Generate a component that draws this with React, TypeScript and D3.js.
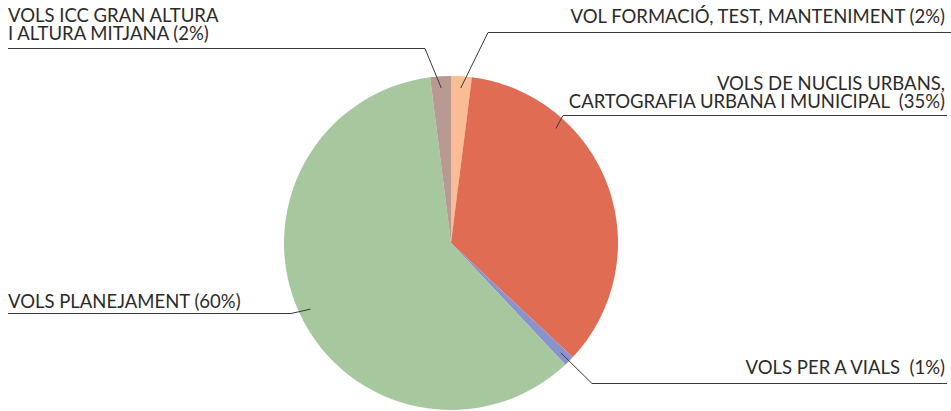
import React from "react";
import * as d3 from "d3";

const categories = [
  "VOL FORMACIÓ, TEST, MANTENIMENT (2%)",
  "VOLS DE NUCLIS URBANS,|CARTOGRAFIA URBANA I MUNICIPAL  (35%)",
  "VOLS PER A VIALS  (1%)",
  "VOLS PLANEJAMENT (60%)",
  "VOLS ICC GRAN ALTURA|I ALTURA MITJANA (2%)",
];
const values = [2, 35, 1, 60, 2];
const colors = ["#F9BC94", "#E06C54", "#8A93CC", "#A7C79E", "#B89A92"];
// where, within each slice (0..1), the leader line touches
const anchorFrac = [0.5, 0.28, 0.5, 0.5, 0.5];

const W = 951, H = 411;
const cx = 451, cy = 243, R = 167;

// label layout: side, underline y, elbow x, line end x
const labelLayout = [
  { side: "right", y: 32.5, elbowX: 488, endX: 951, textX: 945, gap: 10 },
  { side: "right", y: 115.5, elbowX: 563, endX: 947, textX: 945, gap: 8 },
  { side: "right", y: 383.5, elbowX: 592, endX: 947, textX: 945, gap: 10 },
  { side: "left", y: 313.5, elbowX: 291, endX: 8, textX: 8, gap: 6 },
  { side: "left", y: 48.5, elbowX: 425, endX: 8, textX: 8, gap: 9 },
];

export default function App() {
  const pie = d3.pie<number>().sort(null).startAngle(0).endAngle(2 * Math.PI);
  const arcs = pie(values);
  const arc = d3.arc<d3.PieArcDatum<number>>().innerRadius(0).outerRadius(R);
  const lh = 17.5;
  return (
    <svg width={W} height={H} style={{ position: "absolute", left: 0, top: 0 }}>
      <g transform={`translate(${cx},${cy})`}>
        {arcs.map((a, i) => (
          <path key={i} d={arc(a) || ""} fill={colors[i]} />
        ))}
      </g>
      {arcs.map((a, i) => {
        const L = labelLayout[i];
        const ang = a.startAngle + (a.endAngle - a.startAngle) * anchorFrac[i];
        const r = R * 0.93;
        const px = cx + Math.sin(ang) * r;
        const py = cy - Math.cos(ang) * r;
        const lines = categories[i].split("|");
        const anchor = L.side === "right" ? "end" : "start";
        const base = L.y - L.gap - (lines.length - 1) * lh;
        return (
          <g key={i}>
            <polyline
              points={`${px},${py} ${L.elbowX},${L.y} ${L.endX},${L.y}`}
              fill="none"
              stroke="#3a3a3a"
              strokeWidth={1}
            />
            <text
              fontFamily="Lato, 'Open Sans', sans-serif"
              fontSize={18.5}
              fill="#2b2b2b"
              textAnchor={anchor}
            >
              {lines.map((t, k) => (
                <tspan key={k} x={L.textX} y={base + k * lh} style={{ whiteSpace: "pre" }}>
                  {t}
                </tspan>
              ))}
            </text>
          </g>
        );
      })}
    </svg>
  );
}
